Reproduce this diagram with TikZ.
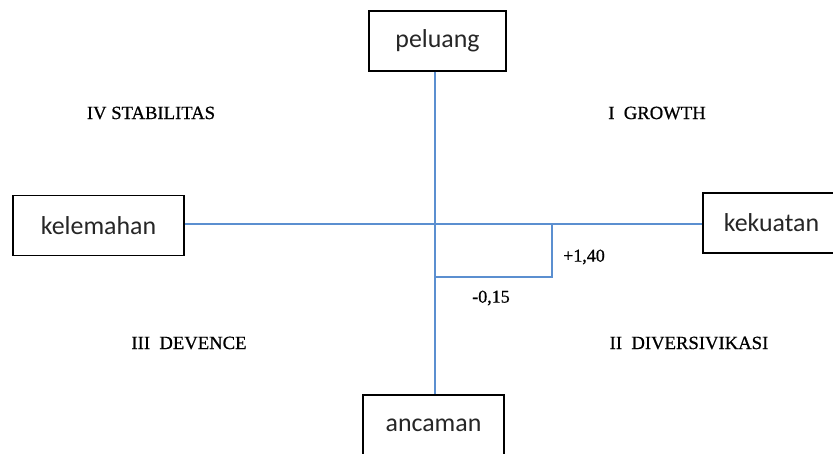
\documentclass[tikz,border=0pt]{standalone}
\usepackage{fontspec}
\setmainfont{Liberation Serif}
\newfontfamily\tebal[FakeBold=0.7]{Liberation Serif}
\newfontfamily\boxfont{Carlito}
\usetikzlibrary{positioning, calc}
\definecolor{Garis}{HTML}{5B8FD0}
\definecolor{Teks}{HTML}{262626}
\tikzset{
    kotak/.style={rectangle, draw=black, line width=1.1pt, fill=white, text=Teks, minimum width=102.75pt, minimum height=45pt, inner sep=0pt, font=\boxfont\fontsize{19.4}{23}\selectfont},
    kuadran/.style={text=black, inner sep=0pt, font=\tebal\fontsize{14}{16}\selectfont},
    angka/.style={text=black, inner sep=0pt, font=\tebal\fontsize{13.5}{15}\selectfont},
    sumbu/.style={draw=Garis, line width=1.3pt},
}
\begin{document}
\begin{tikzpicture}[x=0.75pt, y=-0.75pt]
    \useasboundingbox (0,0) rectangle (833,454);
    \clip (0,0) rectangle (833,454);
    % kotak faktor
    \node[kotak] (peluang) at (437.5,41) {peluang};
    \node[kotak, minimum width=128.25pt] (kelemahan) at (98.5,225.5) {kelemahan};
    \node[kotak] (kekuatan) at (771.5,223) {kekuatan};
    \node[kotak, minimum width=105.75pt] (ancaman) at (433.5,425) {ancaman};
    \coordinate (pusat) at (435,224);
    \coordinate (titik) at (552,277);
    % sumbu
    \draw[sumbu] (peluang.south -| pusat) -- (ancaman.north -| pusat);
    \draw[sumbu] (kelemahan.east |- pusat) -- (kekuatan.west |- pusat);
    \draw[sumbu] (pusat -| titik) -- (titik) -- (titik -| pusat);
    \node[angka] (nilaix) at (584,257) {+1,40};
    \node[angka] (nilaiy) at (491,298) {-0,15};
    % kuadran
    \node[kuadran] (q4) at (151,113) {IV STABILITAS};
    \node[kuadran] (q1) at (657,113) {I\ \ GROWTH};
    \node[kuadran] (q3) at (189,343) {III\ \ DEVENCE};
    \node[kuadran] (q2) at (689,343) {II\ \ DIVERSIVIKASI};
\end{tikzpicture}
\end{document}
